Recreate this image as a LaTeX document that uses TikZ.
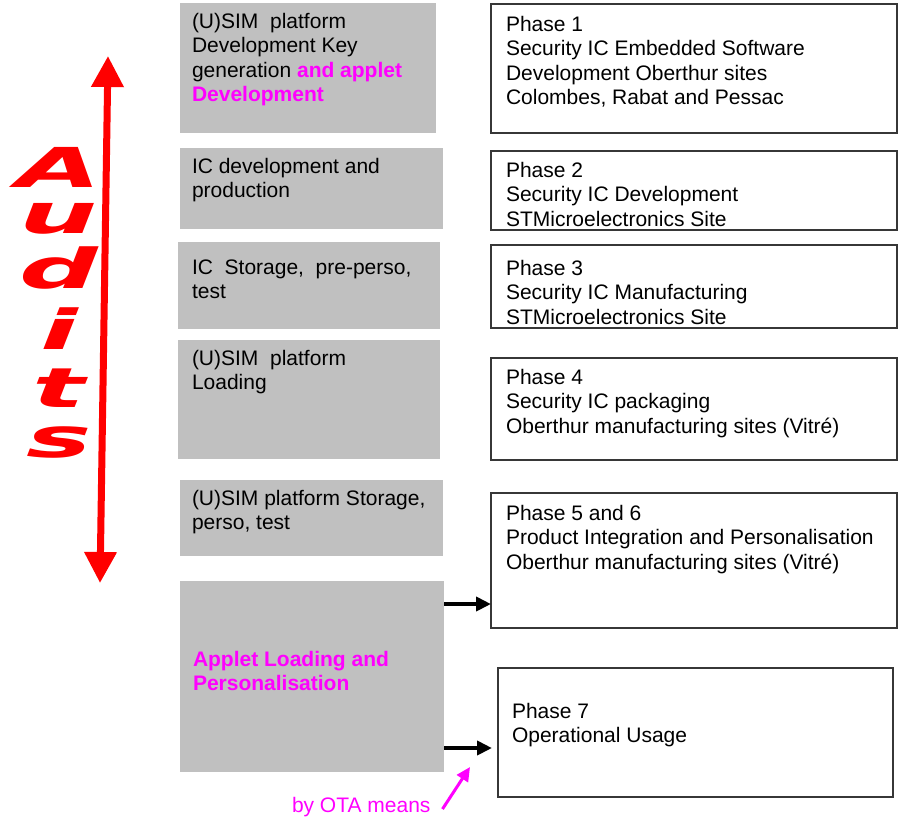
\documentclass[tikz,border=0pt]{standalone}
\usepackage{fontspec}
\setmainfont{Liberation Sans}
\newfontfamily\heavyfont{DejaVu Sans}
\usetikzlibrary{arrows.meta,calc}
\definecolor{boxgray}{RGB}{192,192,192}
\definecolor{mag}{RGB}{255,0,255}
\definecolor{framegray}{RGB}{55,55,55}

\begin{document}
\begin{tikzpicture}[x=1pt,y=-1pt,
  graybox/.style={fill=boxgray, draw=none, inner sep=0pt, outer sep=0pt, anchor=north west},
  phasebox/.style={fill=white, draw=framegray, line width=2pt, inner sep=0pt, outer sep=0pt, anchor=north west},
  txt/.style={anchor=base west, align=left, inner sep=0pt, outer sep=0pt, font=\fontsize{21}{24.5}\selectfont},
  hot/.style={text=mag, font=\fontsize{21}{24.5}\selectfont\bfseries},
  auditletter/.style={anchor=base, inner sep=0pt, text=red, font=\heavyfont\fontsize{55}{55}\selectfont\bfseries\itshape},
  auditarrow/.style={draw=red, line width=7pt, {Triangle[length=31pt,width=31pt]}-{Triangle[length=31pt,width=31pt]}},
  flowarrow/.style={draw=black, line width=4pt, -{Triangle[length=15pt,width=14pt]}},
  otaarrow/.style={draw=mag, line width=3pt, -{Triangle[length=14pt,width=13pt]}}
]
\useasboundingbox (0,0) rectangle (899,820);

% left column: activities (gray)
\node[graybox, minimum width=256, minimum height=130] (g1) at (180,3) {};
\node[graybox, minimum width=263, minimum height=81]  (g2) at (180,148) {};
\node[graybox, minimum width=262, minimum height=87]  (g3) at (178,242) {};
\node[graybox, minimum width=262, minimum height=119] (g4) at (178,340) {};
\node[graybox, minimum width=263, minimum height=76]  (g5) at (180,480) {};
\node[graybox, minimum width=264, minimum height=191] (g6) at (180,581) {};

% text nodes are placed by the baseline of their last line
\node[txt] (g1t) at ($(g1.north west)+(12,98.5)$) {(U)SIM\ \ platform\\Development Key\\generation {\color{mag}\bfseries and applet}\\{\color{mag}\bfseries Development}};
\node[txt] (g2t) at ($(g2.north west)+(12,49.5)$) {IC development and\\production};
\node[txt] (g3t) at ($(g3.north west)+(14,56.5)$) {IC\ \ Storage,\ \ pre-perso,\\test};
\node[txt] (g4t) at ($(g4.north west)+(14,49.5)$) {(U)SIM\ \ platform\\Loading};
\node[txt] (g5t) at ($(g5.north west)+(12,49.5)$) {(U)SIM platform Storage,\\perso, test};
\node[txt, hot] (g6t) at ($(g6.north west)+(13,109.5)$) {Applet Loading and\\Personalisation};

% right column: phases (framed)
\node[phasebox, minimum width=406, minimum height=129] (w1) at (491,4) {};
\node[phasebox, minimum width=406, minimum height=79]  (w2) at (491,151) {};
\node[phasebox, minimum width=406, minimum height=83]  (w3) at (491,245) {};
\node[phasebox, minimum width=406, minimum height=102] (w4) at (491,358) {};
\node[phasebox, minimum width=406, minimum height=135] (w5) at (491,493) {};
\node[phasebox, minimum width=395, minimum height=129] (w6) at (498,668) {};

\node[txt] (w1t) at ($(w1.north west)+(15,100.5)$) {Phase 1\\Security IC Embedded Software\\Development Oberthur sites\\Colombes, Rabat and Pessac};
\node[txt] (w2t) at ($(w2.north west)+(15,75)$) {Phase 2\\Security IC Development\\STMicroelectronics Site};
\node[txt] (w3t) at ($(w3.north west)+(15,79)$) {Phase 3\\Security IC Manufacturing\\STMicroelectronics Site};
\node[txt] (w4t) at ($(w4.north west)+(15,75)$) {Phase 4\\Security IC packaging\\Oberthur manufacturing sites (Vitré)};
\node[txt] (w5t) at ($(w5.north west)+(15,76)$) {Phase 5 and 6\\Product Integration and Personalisation\\Oberthur manufacturing sites (Vitré)};
\node[txt] (w6t) at ($(w6.north west)+(14,74.5)$) {Phase 7\\Operational Usage};

% audits: stacked wide italic letters beside a double arrow
\foreach \l/\yy [count=\i] in {A/187,u/233,d/288,i/349,t/407,s/457}
  \node[auditletter] (aud\i) at (59,\yy) {\scalebox{2.0}[1]{\l}};
\coordinate (auditTop) at (108,56);
\coordinate (auditBot) at (100,583);
\draw[auditarrow] (auditBot) -- (auditTop);

% flows out of applet loading
\draw[flowarrow] ([yshift=-23pt]g6.north east) -- ([yshift=-23pt]g6.north east -| w5.west);
\draw[flowarrow, shorten >=6pt] ([yshift=24pt]g6.south east) -- ([yshift=24pt]g6.south east -| w6.west);

% over-the-air note
\node[txt, text=mag] (ota) at (292,812) {by OTA means};
\coordinate (otaTip) at (470,767);
\draw[otaarrow] ([xshift=12pt,yshift=3pt]ota.base east) -- (otaTip);
\end{tikzpicture}
\end{document}
